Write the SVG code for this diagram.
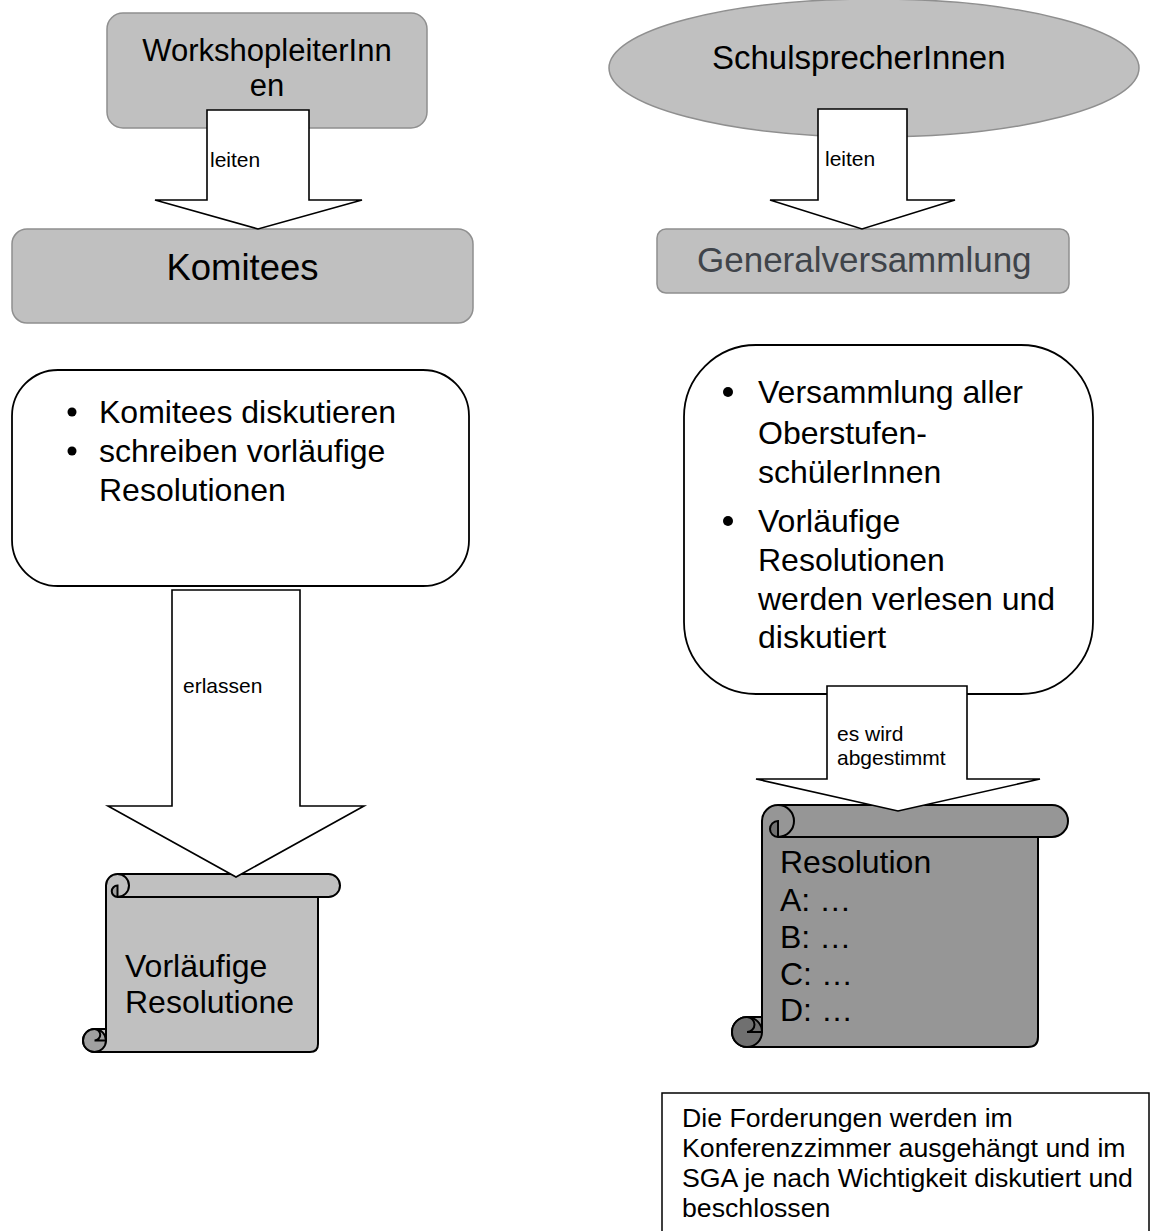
<svg xmlns="http://www.w3.org/2000/svg" width="1152" height="1231" viewBox="0 0 1152 1231">
<style>
text{font-family:"Liberation Sans",Arial,sans-serif;fill:#000}
.gbox{fill:#c0c0c0;stroke:#8f8f8f;stroke-width:1.5}
.wbox{fill:#fff;stroke:#000;stroke-width:1.8}
.arrow{fill:#fff;stroke:#000;stroke-width:1.6;stroke-linejoin:miter}
.lbl{font-size:21px}
.big{font-size:32px}
.ln{fill:none;stroke:#000;stroke-width:2}
.s1{fill:#c0c0c0;stroke:#000;stroke-width:2;stroke-linejoin:round}
.s1d{fill:#a0a0a0;stroke:#000;stroke-width:2}
.s2{fill:#969696;stroke:#000;stroke-width:2;stroke-linejoin:round}
.s2d{fill:#707070;stroke:#000;stroke-width:2}
</style>
<defs>
<clipPath id="gvclip"><rect x="657" y="229" width="412" height="50"/></clipPath>
</defs>

<g id="workshopleiter">
<rect class="gbox" x="107" y="13" width="320" height="115" rx="16"/>
<text x="267" y="61" font-size="31" text-anchor="middle">WorkshopleiterInn</text>
<text x="267" y="96" font-size="31" text-anchor="middle">en</text>
</g>

<g id="schulsprecher">
<ellipse class="gbox" cx="874" cy="68" rx="265" ry="69"/>
<text x="712" y="69" font-size="33">SchulsprecherInnen</text>
</g>

<g id="komitees">
<rect class="gbox" x="12" y="229" width="461" height="94" rx="15"/>
<text x="242.5" y="280" font-size="36.5" text-anchor="middle">Komitees</text>
</g>

<g id="generalversammlung">
<rect class="gbox" x="657" y="229" width="412" height="64" rx="9"/>
<text x="697" y="272" font-size="35" style="fill:#3f444a" clip-path="url(#gvclip)">Generalversammlung</text>
</g>

<g id="komitees-aufgaben">
<rect class="wbox" x="12" y="370" width="457" height="216" rx="46"/>
<circle cx="72" cy="412" r="4.5"/>
<text class="big" x="99" y="423">Komitees diskutieren</text>
<circle cx="72" cy="451" r="4.5"/>
<text class="big" x="99" y="462">schreiben vorläufige</text>
<text class="big" x="99" y="501">Resolutionen</text>
</g>

<g id="gv-aufgaben">
<rect class="wbox" x="684" y="345" width="409" height="349" rx="72"/>
<circle cx="728" cy="392" r="5"/>
<text class="big" x="758" y="403">Versammlung aller</text>
<text class="big" x="758" y="444">Oberstufen-</text>
<text class="big" x="758" y="483">schülerInnen</text>
<circle cx="728" cy="521" r="5"/>
<text class="big" x="758" y="532">Vorläufige</text>
<text class="big" x="758" y="571">Resolutionen</text>
<text class="big" x="758" y="610">werden verlesen und</text>
<text class="big" x="758" y="648">diskutiert</text>
</g>

<g id="vorlaeufige-resolution">
<path class="s1" d="M106,885.5 A11.5,11.5 0 0 1 117.5,874 L328.5,874 A11.5,11.5 0 0 1 328.5,897 L318,897 L318,1044 Q318,1052 310,1052 L94.5,1052 A11.5,11.5 0 0 1 94.5,1029 L106,1029 Z"/>
<path class="ln" d="M117.5,874 A11.5,11.5 0 0 1 117.5,897 L318,897"/>
<path class="s1d" d="M117.5,885.5 A5.75,5.75 0 0 0 117.5,897 Z"/>
<circle class="s1d" cx="94.5" cy="1040.5" r="11.5"/>
<path class="ln" d="M94.5,1040.5 A5.75,5.75 0 0 0 94.5,1029 M94.5,1040.5 L106,1040.5 L106,1029"/>
<text class="big" x="125" y="977">Vorläufige</text>
<text class="big" x="125" y="1013">Resolutione</text>
</g>

<g id="resolution">
<path class="s2" d="M762,821 A16,16 0 0 1 778,805 L1052,805 A16,16 0 0 1 1052,837 L1038,837 L1038,1037 Q1038,1047 1028,1047 L747,1047 A15,15 0 0 1 747,1017 L762,1017 Z"/>
<path class="ln" d="M778,805 A16,16 0 0 1 778,837 L1038,837"/>
<path class="s2d" d="M778,821 A8,8 0 0 0 778,837 Z"/>
<circle class="s2d" cx="747" cy="1032" r="15"/>
<path class="ln" d="M747,1032 A7.5,7.5 0 0 0 747,1017 M747,1032 L762,1032 L762,1017"/>
<text class="big" x="780" y="873">Resolution</text>
<text class="big" x="780" y="911">A: …</text>
<text class="big" x="780" y="948">B: …</text>
<text class="big" x="780" y="985">C: …</text>
<text class="big" x="780" y="1021">D: …</text>
</g>

<g id="hinweis">
<rect x="662" y="1093" width="487" height="160" fill="#fff" stroke="#000" stroke-width="1.5"/>
<text x="682" y="1127" font-size="26.7">Die Forderungen werden im</text>
<text x="682" y="1157" font-size="26.7">Konferenzzimmer ausgehängt und im</text>
<text x="682" y="1187" font-size="26.7">SGA je nach Wichtigkeit diskutiert und</text>
<text x="682" y="1217" font-size="26.7">beschlossen</text>
</g>

<g id="connectors">
<g id="c-leiten-1">
<path class="arrow" d="M207,110 L309,110 L309,200 L362,200 L258,229 L155,200 L207,200 Z"/>
<text class="lbl" x="210" y="167">leiten</text>
</g>
<g id="c-leiten-2">
<path class="arrow" d="M818,109 L907,109 L907,200 L955,200 L862,229 L770,200 L818,200 Z"/>
<text class="lbl" x="825" y="166">leiten</text>
</g>
<g id="c-erlassen">
<path class="arrow" d="M172,590 L300,590 L300,806 L364,806 L236,877 L108,806 L172,806 Z"/>
<text class="lbl" x="183" y="693">erlassen</text>
</g>
<g id="c-abgestimmt">
<path class="arrow" d="M827,686 L967,686 L967,779 L1040,779 L898,811 L756,779 L827,779 Z"/>
<text class="lbl" x="837" y="741">es wird</text>
<text class="lbl" x="837" y="765">abgestimmt</text>
</g>
</g>
</svg>
